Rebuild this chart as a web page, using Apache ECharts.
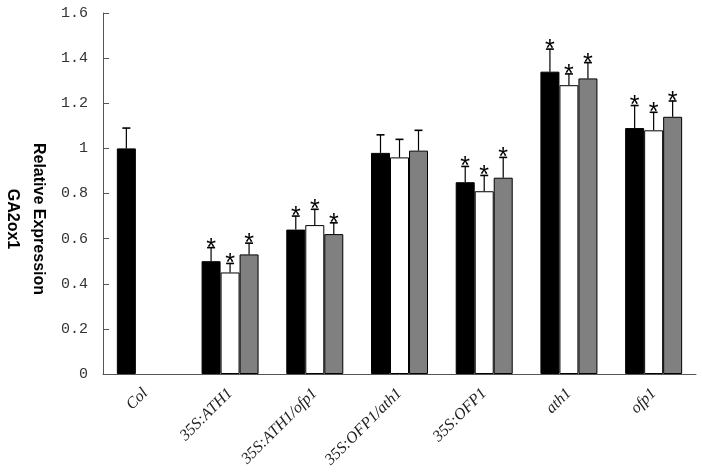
<!DOCTYPE html>
<html>
<head>
<meta charset="utf-8">
<script src="https://cdn.jsdelivr.net/npm/echarts@6/dist/echarts.min.js"></script>
<style>
  html, body { margin: 0; padding: 0; background: #fff; }
  #main { width: 702px; height: 476px; }
</style>
</head>
<body>
<div id="main"></div>
<script>
const categories = ["Col", "35S:ATH1", "35S:ATH1/ofp1", "35S:OFP1/ath1", "35S:OFP1", "ath1", "ofp1"];
const blackValues = [1.0, 0.5, 0.64, 0.98, 0.85, 1.34, 1.09];
const whiteValues = [null, 0.45, 0.66, 0.96, 0.81, 1.28, 1.08];
const grayValues = [null, 0.53, 0.62, 0.99, 0.87, 1.31, 1.14];
const blackErrors = [0.09, 0.06, 0.06, 0.08, 0.07, 0.1, 0.1];
const whiteErrors = [null, 0.04, 0.07, 0.08, 0.07, 0.05, 0.08];
const grayErrors = [null, 0.05, 0.05, 0.09, 0.09, 0.07, 0.07];
const significant = [false, true, true, false, true, true, true];

const BAR_W = 19;

const chart = echarts.init(document.getElementById("main"));

function errorData(values, errors) {
  return values
    .map((v, i) => (v == null ? null : [i, v, errors[i], significant[i] ? 1 : 0]))
    .filter(Boolean);
}

// error bar (upper half only) + significance star, drawn over each bar slot
function errorRenderer(slot) {
  return function (params, api) {
    const cat = api.value(0);
    const v = api.value(1);
    const e = api.value(2);
    const base = api.coord([cat, v]);
    const top = api.coord([cat, v + e]);
    const x = base[0] + (slot - 1) * BAR_W;
    const children = [
      { type: "line", shape: { x1: x, y1: base[1], x2: x, y2: top[1] }, style: { stroke: "#000", lineWidth: 1.2 } },
      { type: "line", shape: { x1: x - 4, y1: top[1], x2: x + 4, y2: top[1] }, style: { stroke: "#000", lineWidth: 1.6 } },
    ];
    if (api.value(3)) {
      children.push({
        type: "text",
        x: x,
        y: top[1] + 1,
        style: { text: "*", fill: "#000", font: "25px 'Liberation Sans'", align: "center", verticalAlign: "middle" },
      });
    }
    return { type: "group", children };
  };
}

function barSeries(name, values, color) {
  return {
    name,
    type: "bar",
    barWidth: BAR_W,
    barGap: "0%",
    itemStyle: { color, borderColor: "#000", borderWidth: 1 },
    data: values,
  };
}

function errorSeries(values, errors, slot) {
  return {
    type: "custom",
    renderItem: errorRenderer(slot),
    data: errorData(values, errors),
    z: 5,
    silent: true,
  };
}

chart.setOption({
  animation: false,
  backgroundColor: "#fff",
  grid: { left: 103, right: 6, top: 13, bottom: 102, outerBoundsMode: "none" },
  graphic: [
    {
      type: "text",
      x: 25,
      y: 219,
      rotation: -Math.PI / 2,
      style: {
        text: "Relative Expression\nGA2ox1",
        font: "bold 16px 'Liberation Sans'",
        lineHeight: 26,
        fill: "#000",
        align: "center",
        verticalAlign: "middle",
      },
    },
  ],
  xAxis: {
    type: "category",
    data: categories,
    axisLine: { lineStyle: { color: "#555", width: 1 } },
    axisTick: { inside: true, length: 5, lineStyle: { color: "#555" } },
    axisLabel: {
      interval: 0,
      rotate: 45,
      margin: 17,
      color: "#222",
      fontFamily: "Liberation Serif",
      fontStyle: "italic",
      fontSize: 16,
    },
  },
  yAxis: {
    type: "value",
    min: 0,
    max: 1.6,
    interval: 0.2,
    splitLine: { show: false },
    axisLine: { show: true, lineStyle: { color: "#555", width: 1 } },
    axisTick: { show: true, inside: true, length: 6, lineStyle: { color: "#555" } },
    axisLabel: { margin: 15, color: "#333", fontFamily: "Liberation Mono", fontSize: 15 },
  },
  series: [
    barSeries("black", blackValues, "#000"),
    barSeries("white", whiteValues, "#fff"),
    barSeries("gray", grayValues, "#808080"),
    errorSeries(blackValues, blackErrors, 0),
    errorSeries(whiteValues, whiteErrors, 1),
    errorSeries(grayValues, grayErrors, 2),
  ],
});
</script>
</body>
</html>
